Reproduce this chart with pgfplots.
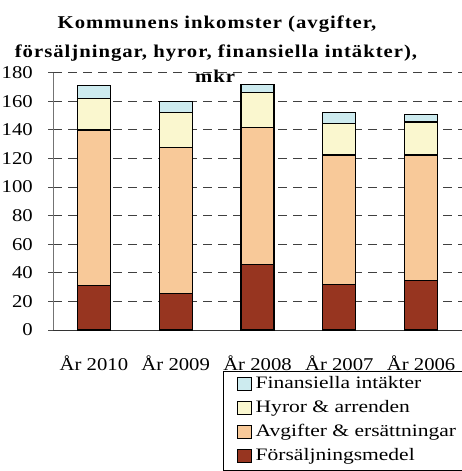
\documentclass[border=0pt]{standalone}
\usepackage{pgfplots}
\pgfplotsset{compat=1.18}
\usepackage{fontspec}
\setmainfont{Liberation Serif}[FakeStretch=1.15]
\newfontfamily\legfont{Liberation Serif}[FakeStretch=1.23]
\definecolor{cFin}{HTML}{CDEBEF}
\definecolor{cHyr}{HTML}{FAF7CF}
\definecolor{cAvg}{HTML}{F8C999}
\definecolor{cFor}{HTML}{973520}
\begin{document}
\begin{tikzpicture}
\clip (0,0) rectangle (462pt,471pt);
\path[use as bounding box] (0,0) rectangle (462pt,471pt);
\begin{axis}[
  at={(53pt,141pt)}, anchor=south west,
  scale only axis, width=409pt, height=257.3pt,
  ybar stacked, bar width=33pt,
  xmin=-0.5, xmax=4.5, ymin=0, ymax=180,
  ytick={0,20,...,180},
  xtick={0,1,2,3,4},
  xticklabels={År 2010,År 2009,År 2008,År 2007,År 2006},
  major tick length=5pt,
  x tick style={draw=none},
  extra x ticks={-0.5,0.5,1.5,2.5,3.5,4.5},
  extra x tick labels={},
  extra x tick style={grid=none, tick style={draw=black!80, line width=0.8pt}, tick pos=left, tick align=outside},
  axis x line*=bottom, axis y line*=left,
  x axis line style={draw=black!80, line width=0.8pt},
  y axis line style={draw=black!55, line width=1pt},
  y tick style={draw=black!70, line width=0.8pt},
  tick align=outside,
  ymajorgrids, major grid style={draw=black!75, dash pattern=on 9pt off 6pt, line width=0.8pt},
  /pgf/number format/assume math mode=true,
  tick label style={font=\fontsize{18}{20}\selectfont},
  yticklabel style={inner sep=0pt, anchor=east, xshift=-15pt},
  xticklabel style={inner sep=0pt, anchor=base, yshift=-35pt},
  every axis plot/.append style={draw=black, line width=1.3pt},
  reverse legend,
  legend cell align=left,
  legend image code/.code={\draw[#1,draw=black,line width=1pt] (0pt,-6pt) rectangle (14pt,7pt);},
  legend style={at={(0.4164,-0.1594)}, anchor=north west, draw=black, line width=0.8pt,
    font=\legfont\fontsize{17.5}{20}\selectfont, inner xsep=13pt, inner ysep=4pt, row sep=5pt,
    nodes={inner sep=0pt, text height=13pt, text depth=6pt, anchor=west},
    /tikz/every odd column/.style={column sep=4pt}},
]
\addplot[fill=cFor] coordinates {(0,31) (1,25.5) (2,46) (3,32) (4,34.5)};
\addplot[fill=cAvg] coordinates {(0,109) (1,102) (2,95.5) (3,90.5) (4,88)};
\addplot[fill=cHyr] coordinates {(0,22) (1,24.5) (2,24.5) (3,22) (4,23)};
\addplot[fill=cFin] coordinates {(0,9) (1,8) (2,5.5) (3,7.5) (4,5.5)};
\legend{Försäljningsmedel, Avgifter \& ersättningar, Hyror \& arrenden, Finansiella intäkter}
\end{axis}
\begin{scope}[font=\fontsize{18}{20}\selectfont\bfseries\addfontfeature{LetterSpace=5.5}]
\node[anchor=base, inner sep=0pt] at (217pt,442.7pt) {Kommunens inkomster (avgifter,};
\node[anchor=base, inner sep=0pt] at (216pt,413.3pt) {försäljningar, hyror, finansiella intäkter),};
\node[anchor=base, inner sep=0pt] at (215pt,388.5pt) {mkr};
\end{scope}
\end{tikzpicture}
\end{document}
